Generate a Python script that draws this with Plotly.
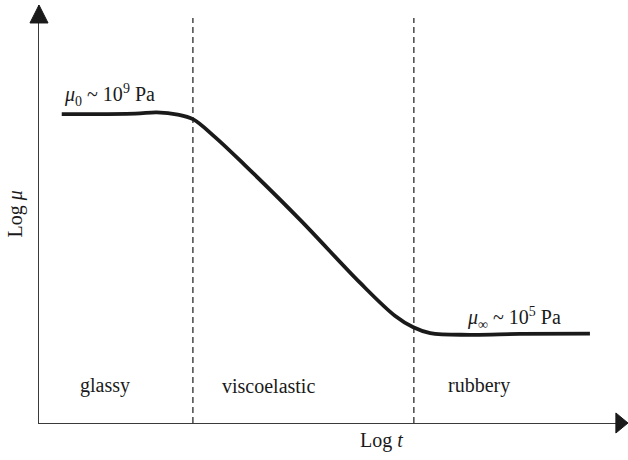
import plotly.graph_objects as go

# Schematic relaxation curve: Log μ against Log t (arbitrary units 0-10)
log_t = [0.39, 1.65, 2.02, 2.38, 2.64, 3.02, 3.53, 4.48, 5.51, 6.11,
         6.42, 6.71, 7.39, 8.25, 9.45]
log_mu = [7.39, 7.40, 7.43, 7.38, 7.27, 6.84, 6.17, 4.86, 3.35, 2.56,
          2.29, 2.15, 2.11, 2.13, 2.14]

# Boundaries between the regimes
boundaries = [2.64, 6.43]
boundary_top = 9.69

# Regime names and their centre positions
regimes = ["glassy", "viscoelastic", "rubbery"]
regime_x = [1.13, 3.94, 7.55]
regime_y = 0.89

SERIF = "Liberation Serif, Times New Roman, serif"
INK = "#1a1a1a"
AXIS = "#3a3a3a"

fig = go.Figure()

fig.add_trace(go.Scatter(
    x=log_t, y=log_mu, mode="lines",
    line=dict(color=INK, width=3.8, shape="spline", smoothing=1.0),
    hoverinfo="skip", showlegend=False,
))

for xb in boundaries:
    fig.add_trace(go.Scatter(
        x=[xb, xb], y=[0, boundary_top], mode="lines",
        line=dict(color=INK, width=1.2, dash="6px,4px"),
        hoverinfo="skip", showlegend=False,
    ))

annotations = []
for name, xc in zip(regimes, regime_x):
    annotations.append(dict(x=xc, y=regime_y, text=name, showarrow=False,
                            xanchor="center", yanchor="middle",
                            font=dict(family=SERIF, size=20, color=INK)))

annotations += [
    dict(x=0.39, y=7.85, text="<i>μ</i><sub>0</sub> ~ 10<sup>9</sup> Pa",
         showarrow=False, xanchor="left", yanchor="middle",
         font=dict(family=SERIF, size=20, color=INK)),
    dict(x=7.31, y=2.51, text="<i>μ</i><sub>∞</sub> ~ 10<sup>5</sup> Pa",
         showarrow=False, xanchor="left", yanchor="middle",
         font=dict(family=SERIF, size=20, color=INK)),
    dict(x=0.588, y=-0.041, xref="paper", yref="paper", text="Log <i>t</i>",
         showarrow=False, xanchor="center", yanchor="middle",
         font=dict(family=SERIF, size=20, color=INK)),
    dict(x=-0.042, y=0.5, xref="paper", yref="paper", text="Log <i>μ</i>",
         showarrow=False, xanchor="center", yanchor="middle", textangle=-90,
         font=dict(family=SERIF, size=20, color=INK)),
]

# Arrowheads on the ends of both axes
shapes = [
    dict(type="path", xref="paper", yref="paper",
         path="M -0.0155,0.957 L 0,1.0 L 0.0155,0.957 Z",
         fillcolor=INK, line=dict(color=INK, width=1)),
    dict(type="path", xref="paper", yref="paper",
         path="M 0.9895,0.024 L 1.0103,0 L 0.9895,-0.024 Z",
         fillcolor=INK, line=dict(color=INK, width=1)),
]

fig.update_layout(
    width=628, height=460,
    margin=dict(l=39, r=6, t=5, b=37),
    paper_bgcolor="white", plot_bgcolor="white",
    annotations=annotations, shapes=shapes,
    xaxis=dict(range=[0, 10], showgrid=False, zeroline=False,
               showticklabels=False, ticks="", showline=True,
               linecolor=AXIS, linewidth=1.4),
    yaxis=dict(range=[0, 10], showgrid=False, zeroline=False,
               showticklabels=False, ticks="", showline=True,
               linecolor=AXIS, linewidth=1.4),
)

fig.write_html("out.html")
